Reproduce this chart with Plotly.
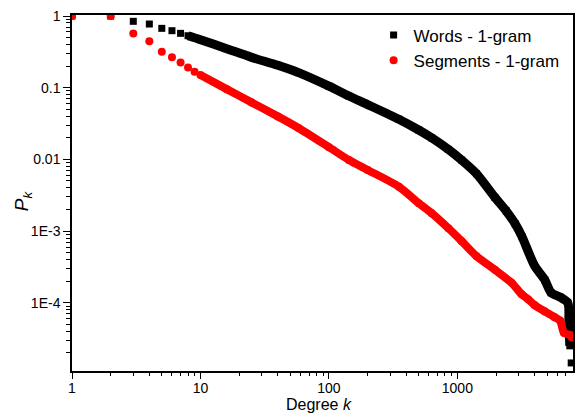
import plotly.graph_objects as go

# Degree distribution (k, P_k)
words_k = [1, 2, 3, 4, 5, 6, 7, 8, 10, 16, 25, 40, 58, 100, 143, 200, 350, 500, 630, 850,
           1080, 1410, 1960, 2400, 2820, 3190, 3980, 4790, 5370, 6310, 7240, 7380, 7500, 7690]
words_p = [1, 1, 0.843, 0.773, 0.673, 0.624, 0.573, 0.531, 0.468, 0.350, 0.265, 0.205, 0.162,
           0.105, 0.0767, 0.0582, 0.0363, 0.0257, 0.0200, 0.0138, 0.00977, 0.00631, 0.00295,
           0.00191, 0.00126, 0.000832, 0.000331, 0.000209, 0.000138, 0.000120, 0.0001,
           0.0000501, 0.0000251, 0.0000145]

seg_k = [1, 2, 3, 4, 5, 6, 7, 8, 9, 10, 16, 25, 40, 58, 100, 143, 200, 350, 500, 630, 850,
         1080, 1410, 1960, 2640, 3160, 3550, 3980, 4790, 5710, 6310, 6760, 7590, 7760]
seg_p = [1, 1, 0.568, 0.444, 0.318, 0.265, 0.224, 0.191, 0.167, 0.150, 0.0955, 0.0624, 0.0398,
         0.0274, 0.0148, 0.00982, 0.00713, 0.00417, 0.00245, 0.00178, 0.00110, 0.000724,
         0.000447, 0.000288, 0.000191, 0.000132, 0.000112, 0.0000933, 0.0000759, 0.0000631,
         0.0000562, 0.000038, 0.0000355, 0.0000331]

names = ["Words - 1-gram", "Segments - 1-gram"]
y_tickvals = [1, 0.1, 0.01, 0.001, 0.0001]
y_ticktext = ["1", "0.1", "0.01", "1E-3", "1E-4"]
x_tickvals = [1, 10, 100, 1000]
x_ticktext = ["1", "10", "100", "1000"]

FONT = "Arial, Liberation Sans, sans-serif"
fig = go.Figure()

# Words (black squares)
fig.add_trace(go.Scatter(x=words_k, y=words_p, mode="markers", name=names[0],
                         marker=dict(symbol="square", size=7, color="#000000")))
fig.add_trace(go.Scatter(x=words_k[7:-1], y=words_p[7:-1], mode="lines", showlegend=False,
                         line=dict(color="#000000", width=9, shape="spline", smoothing=0.7),
                         hoverinfo="skip"))
# Segments (red circles)
fig.add_trace(go.Scatter(x=seg_k, y=seg_p, mode="markers", name=names[1],
                         marker=dict(symbol="circle", size=8, color="#ff0000")))
fig.add_trace(go.Scatter(x=seg_k[9:], y=seg_p[9:], mode="lines", showlegend=False,
                         line=dict(color="#ff0000", width=8, shape="spline", smoothing=0.7),
                         hoverinfo="skip"))

minor_x = [m * 10 ** e for e in range(0, 4) for m in range(2, 10)]
minor_y = [m * 10 ** e for e in range(-5, 0) for m in range(2, 10)]

xr = [0, 3.9]
yr = [-4.951, 0.014]

fig.update_layout(
    width=575, height=414,
    margin=dict(l=72, r=0, t=15, b=43),
    paper_bgcolor="white", plot_bgcolor="white",
    font=dict(family=FONT, size=14, color="#000000"),
    showlegend=True,
    legend=dict(x=0.602, y=0.993, xanchor="left", yanchor="top",
                font=dict(size=17, family=FONT), bgcolor="rgba(0,0,0,0)",
                tracegroupgap=0, itemwidth=30),
    xaxis=dict(type="log", range=xr, showgrid=False, zeroline=False,
               showline=True, linecolor="#000000", linewidth=1.5, mirror=True,
               ticks="outside", ticklen=6, tickwidth=1.2, tickcolor="#000000",
               tickvals=x_tickvals, ticktext=x_ticktext, ticklabelstandoff=-3,
               tickfont=dict(size=14, family=FONT),
               minor=dict(ticks="outside", ticklen=3, tickwidth=1, tickcolor="#000000",
                          tickvals=minor_x, showgrid=False)),
    yaxis=dict(type="log", range=yr, showgrid=False, zeroline=False,
               showline=True, linecolor="#000000", linewidth=1.5, mirror=True,
               ticks="outside", ticklen=7, tickwidth=1.2, tickcolor="#000000",
               tickvals=y_tickvals, ticktext=y_ticktext,
               tickfont=dict(size=14, family=FONT),
               minor=dict(ticks="outside", ticklen=4, tickwidth=1, tickcolor="#000000",
                          tickvals=minor_y, showgrid=False)),
    xaxis2=dict(type="log", range=xr, overlaying="x", side="top", anchor="y",
                showgrid=False, zeroline=False, showline=False, showticklabels=False,
                ticks="inside", ticklen=6, tickwidth=1.2, tickcolor="#000000",
                tickvals=x_tickvals,
                minor=dict(ticks="inside", ticklen=3, tickwidth=1, tickcolor="#000000",
                           tickvals=minor_x)),
    yaxis2=dict(type="log", range=yr, overlaying="y", side="right", anchor="x",
                showgrid=False, zeroline=False, showline=False, showticklabels=False,
                ticks="inside", ticklen=7, tickwidth=1.2, tickcolor="#000000",
                tickvals=y_tickvals,
                minor=dict(ticks="inside", ticklen=4, tickwidth=1, tickcolor="#000000",
                           tickvals=minor_y)),
    annotations=[
        dict(text="<i>P</i><sub><i>k</i></sub>", textangle=-90,
             xref="paper", yref="paper", x=(23 - 72) / 503, y=1 - (201 - 15) / 356,
             xanchor="center", yanchor="middle", showarrow=False,
             font=dict(size=19, family=FONT, color="#000000")),
        dict(text="Degree <i>k</i>",
             xref="paper", yref="paper", x=(320 - 72) / 503, y=1 - (414 - 15) / 356,
             xanchor="center", yanchor="bottom", showarrow=False, borderpad=0,
             font=dict(size=16, family=FONT, color="#000000")),
    ],
)

fig.write_html("out.html")
